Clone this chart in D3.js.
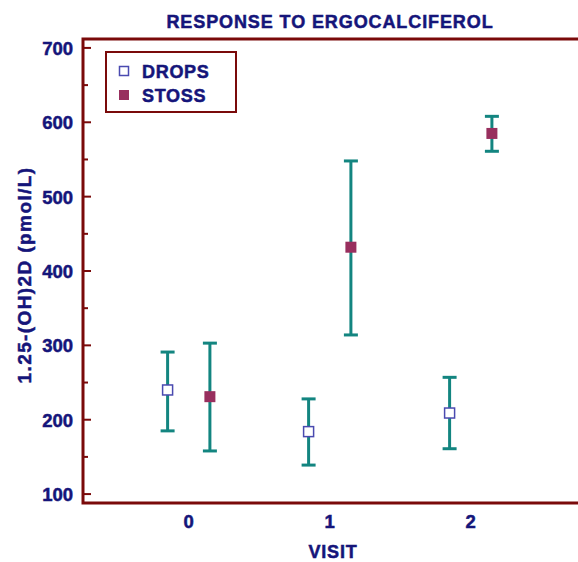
<!DOCTYPE html>
<html>
<head>
<meta charset="utf-8">
<script src="https://cdn.jsdelivr.net/npm/d3@7"></script>
<style>
  body { margin: 0; background: #fff; }
  svg { display: block; font-family: "Liberation Sans", Arial, sans-serif; font-weight: bold; }
  svg text { stroke: #15157a; stroke-width: 0.5px; }
</style>
</head>
<body>
<svg id="chart"></svg>
<script>
//Data
const visits = [0, 1, 2];
const dropsMean = [240, 184, 209];
const dropsHigh = [291, 228, 257];
const dropsLow = [185, 139, 161];
const stossMean = [231, 432, 585];
const stossHigh = [303, 548, 608];
const stossLow = [158, 314, 561];
const yTicks = [100, 200, 300, 400, 500, 600, 700];
const yMinorTicks = [150, 250, 350, 450, 550, 650];

const w = 578;
const h = 562;
const plotLeft = 83, plotTop = 39, plotBottom = 503, plotRight = 578;

const axisColor = "#7a0a0a";
const textColor = "#15157a";
const barColor = "#138580";

//Scale Setup
const xScale = d3.scaleLinear().domain([-0.75, 2.75]).range([plotLeft, plotLeft + 3.5 * 141]);
const yScale = d3.scaleLinear().domain([88, 712]).range([plotBottom, plotTop]);

const chart = d3.select("#chart").attr("width", w).attr("height", h);

//Title
chart.append("text")
     .attr("x", 330).attr("y", 28)
     .attr("text-anchor", "middle")
     .attr("fill", textColor)
     .style("font-size", "18px")
     .style("letter-spacing", "0.9px")
     .text("RESPONSE TO ERGOCALCIFEROL");

//Frame (left, top, bottom)
chart.append("path")
     .attr("d", `M${plotRight},${plotTop}H${plotLeft}V${plotBottom}H${plotRight}`)
     .attr("fill", "none")
     .attr("stroke", axisColor)
     .attr("stroke-width", 3);

//Y axis ticks point inward
chart.selectAll(".major").data(yTicks).enter().append("line")
     .attr("x1", plotLeft).attr("x2", plotLeft + 8)
     .attr("y1", d => yScale(d)).attr("y2", d => yScale(d))
     .attr("stroke", axisColor).attr("stroke-width", 2);
chart.selectAll(".minor").data(yMinorTicks).enter().append("line")
     .attr("x1", plotLeft).attr("x2", plotLeft + 5)
     .attr("y1", d => yScale(d)).attr("y2", d => yScale(d))
     .attr("stroke", axisColor).attr("stroke-width", 2);
chart.selectAll(".ylab").data(yTicks).enter().append("text")
     .attr("x", plotLeft - 10).attr("y", d => yScale(d) + 7)
     .attr("text-anchor", "end")
     .attr("fill", textColor)
     .style("font-size", "18.5px")
     .text(d => d);

//X labels
chart.selectAll(".xlab").data(visits).enter().append("text")
     .attr("x", d => xScale(d)).attr("y", 528)
     .attr("text-anchor", "middle")
     .attr("fill", textColor)
     .style("font-size", "18.5px")
     .text(d => d);

chart.append("text")
     .attr("x", 333).attr("y", 558)
     .attr("text-anchor", "middle")
     .attr("fill", textColor)
     .style("font-size", "18px")
     .style("letter-spacing", "0.8px")
     .text("VISIT");

chart.append("text")
     .attr("transform", "translate(31, 275) rotate(-90)")
     .attr("text-anchor", "middle")
     .attr("fill", textColor)
     .style("font-size", "19px")
     .style("letter-spacing", "1.4px")
     .text("1.25-(OH)2D (pmol/L)");

//Error bars + markers
const series = [
  {name: "DROPS", offset: -0.15, mean: dropsMean, high: dropsHigh, low: dropsLow},
  {name: "STOSS", offset: 0.15, mean: stossMean, high: stossHigh, low: stossLow}
];

series.forEach(s => {
  const g = chart.append("g");
  visits.forEach((v, i) => {
    const x = xScale(v + s.offset);
    g.append("line")
     .attr("x1", x).attr("x2", x)
     .attr("y1", yScale(s.high[i])).attr("y2", yScale(s.low[i]))
     .attr("stroke", barColor).attr("stroke-width", 3);
    [s.high[i], s.low[i]].forEach(c => {
      g.append("line")
       .attr("x1", x - 7).attr("x2", x + 7)
       .attr("y1", yScale(c)).attr("y2", yScale(c))
       .attr("stroke", barColor).attr("stroke-width", 3);
    });
    if (s.name === "DROPS") {
      g.append("rect")
       .attr("x", x - 5).attr("y", yScale(s.mean[i]) - 5)
       .attr("width", 10).attr("height", 10)
       .attr("fill", "#fff").attr("stroke", "#4a4ab0").attr("stroke-width", 1.5);
    } else {
      g.append("rect")
       .attr("x", x - 5.5).attr("y", yScale(s.mean[i]) - 5.5)
       .attr("width", 11).attr("height", 11)
       .attr("fill", "#982f5e");
    }
  });
});

//Legend
chart.append("rect")
     .attr("x", 106).attr("y", 52)
     .attr("width", 130).attr("height", 60)
     .attr("fill", "#fff")
     .attr("stroke", axisColor).attr("stroke-width", 2);
chart.append("rect")
     .attr("x", 119.5).attr("y", 66.5).attr("width", 9).attr("height", 9)
     .attr("fill", "#fff").attr("stroke", "#4a4ab0").attr("stroke-width", 1.5);
chart.append("rect")
     .attr("x", 119).attr("y", 90).attr("width", 10).attr("height", 10)
     .attr("fill", "#982f5e");
chart.append("text")
     .attr("x", 142).attr("y", 78)
     .attr("fill", textColor).style("font-size", "18px")
     .style("letter-spacing", "0.7px")
     .text("DROPS");
chart.append("text")
     .attr("x", 142).attr("y", 102)
     .attr("fill", textColor).style("font-size", "18px")
     .style("letter-spacing", "0.7px")
     .text("STOSS");
</script>
</body>
</html>
